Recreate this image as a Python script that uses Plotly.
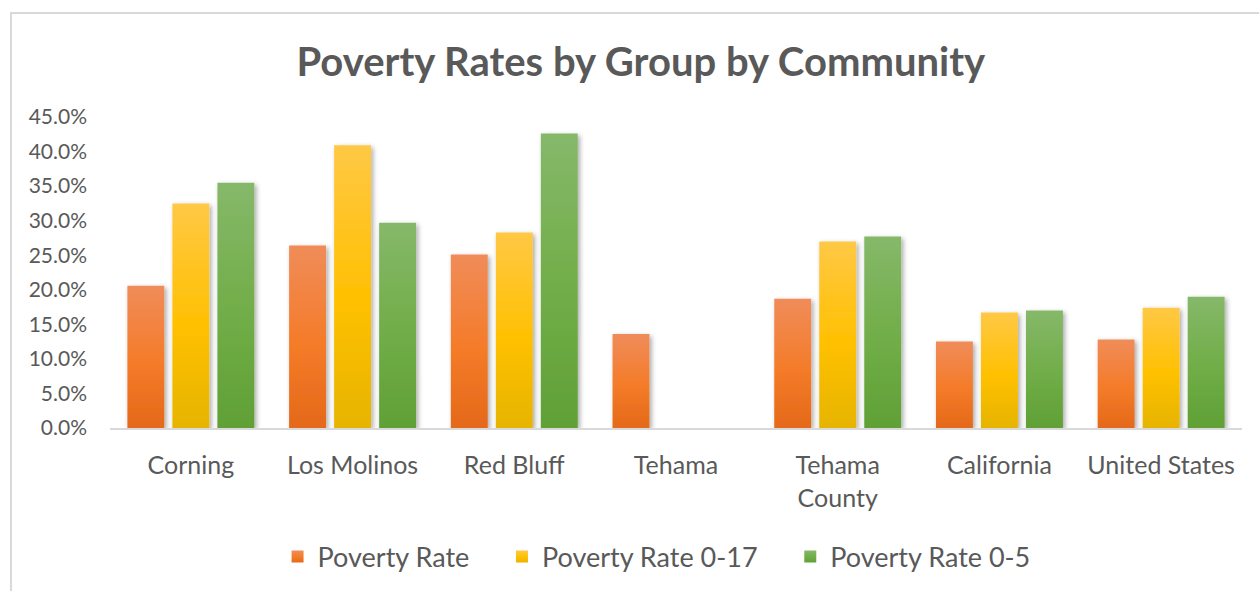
import plotly.graph_objects as go

# Communities shown along the x axis
communities = ["Corning", "Los Molinos", "Red Bluff", "Tehama",
               "Tehama<br>County", "California", "United States"]

# Poverty rates (fractions) for each group
poverty_rate = [0.206, 0.264, 0.251, 0.136, 0.187, 0.125, 0.128]
poverty_rate_0_17 = [0.325, 0.409, 0.283, None, 0.270, 0.167, 0.174]
poverty_rate_0_5 = [0.355, 0.297, 0.426, None, 0.277, 0.170, 0.190]

series_names = ["Poverty Rate", "Poverty Rate 0-17", "Poverty Rate 0-5"]
series_colors = ["#F47B2A", "#FFC000", "#70AD47"]

TEXT = "#595959"
FONT = "Lato"
PAD = "\u00a0" * 4  # extra room between legend entries

fig = go.Figure()
for i, (name, vals, col) in enumerate(zip(
        series_names,
        [poverty_rate, poverty_rate_0_17, poverty_rate_0_5],
        series_colors)):
    fig.add_trace(go.Bar(
        x=communities, y=vals,
        name=name + (PAD if i < len(series_names) - 1 else ""),
        marker=dict(color=col, line=dict(width=0)),
        hovertemplate=name + ": %{y:.1%}<extra>%{x}</extra>",
    ))

fig.update_layout(
    width=1259, height=591,
    margin=dict(l=110, r=17, t=117, b=163),
    paper_bgcolor="white", plot_bgcolor="white",
    barmode="group", bargap=0.165, bargroupgap=0.18,
    font=dict(family=FONT, color=TEXT),
    title=dict(text="<b>Poverty Rates by Group by Community</b>",
               x=0.509, xanchor="center", y=1 - 62 / 591, yanchor="middle",
               yref="container", font=dict(size=40, color=TEXT, family=FONT)),
    legend=dict(orientation="h", xref="container", yref="container",
                x=0.5215, xanchor="center", y=1 - 557 / 591, yanchor="middle",
                font=dict(size=27, color=TEXT, family=FONT),
                itemsizing="constant", traceorder="normal"),
    showlegend=True,
)
fig.update_yaxes(range=[0, 0.45], dtick=0.05, tickformat=".1%",
                 showgrid=False, zeroline=False, showline=False,
                 ticks="", ticklabelstandoff=22,
                 tickfont=dict(size=21, color=TEXT, family=FONT))
fig.update_xaxes(showline=True, linecolor="#D9D9D9", linewidth=2,
                 showgrid=False, ticks="", ticklabelstandoff=14,
                 tickfont=dict(size=25, color=TEXT, family=FONT))

# light frame around the chart area
fig.add_shape(type="rect", xref="paper", yref="paper",
              x0=-99 / 1132, x1=(1259 - 110 + 20) / 1132,
              y0=-(591 - 428 + 20) / 311, y1=(428 - 13) / 311,
              line=dict(color="#D9D9D9", width=2), fillcolor="rgba(0,0,0,0)",
              layer="below")

# vertical gradients and soft shadows on the bars, like the Office style
post = """
var gd = document.querySelector('.js-plotly-plot');
function style() {
  var svg = gd.querySelector('svg.main-svg');
  var ns = 'http://www.w3.org/2000/svg';
  var defs = svg.querySelector('defs');
  if (!document.getElementById('bargrad0')) {
    var stops = [
      ['#F08C5A', '#F47B28', '#E4691A'],
      ['#FFC845', '#FFC000', '#E6B400'],
      ['#86B86A', '#70AD47', '#60A036']
    ];
    stops.forEach(function (s, i) {
      var g = document.createElementNS(ns, 'linearGradient');
      g.setAttribute('id', 'bargrad' + i);
      g.setAttribute('x1', '0'); g.setAttribute('y1', '0');
      g.setAttribute('x2', '0'); g.setAttribute('y2', '1');
      [[0, s[0]], [0.55, s[1]], [1, s[2]]].forEach(function (p) {
        var st = document.createElementNS(ns, 'stop');
        st.setAttribute('offset', p[0]);
        st.setAttribute('stop-color', p[1]);
        g.appendChild(st);
      });
      defs.appendChild(g);
    });
    var f = document.createElementNS(ns, 'filter');
    f.setAttribute('id', 'barshadow');
    f.setAttribute('x', '-30%'); f.setAttribute('y', '-10%');
    f.setAttribute('width', '160%'); f.setAttribute('height', '120%');
    var ds = document.createElementNS(ns, 'feDropShadow');
    ds.setAttribute('dx', '2'); ds.setAttribute('dy', '2');
    ds.setAttribute('stdDeviation', '2.5');
    ds.setAttribute('flood-color', '#000');
    ds.setAttribute('flood-opacity', '0.35');
    f.appendChild(ds);
    defs.appendChild(f);
  }
  gd.querySelectorAll('.barlayer .trace').forEach(function (t, i) {
    t.querySelectorAll('path').forEach(function (p) {
      p.style.fill = 'url(#bargrad' + i + ')';
      p.setAttribute('filter', 'url(#barshadow)');
    });
  });
  gd.querySelectorAll('.legend .traces').forEach(function (t, i) {
    t.querySelectorAll('.legendpoints path').forEach(function (p) {
      p.style.fill = 'url(#bargrad' + i + ')';
    });
  });
}
style();
gd.on('plotly_afterplot', style);
"""

fig.write_html("out.html", post_script=post)
